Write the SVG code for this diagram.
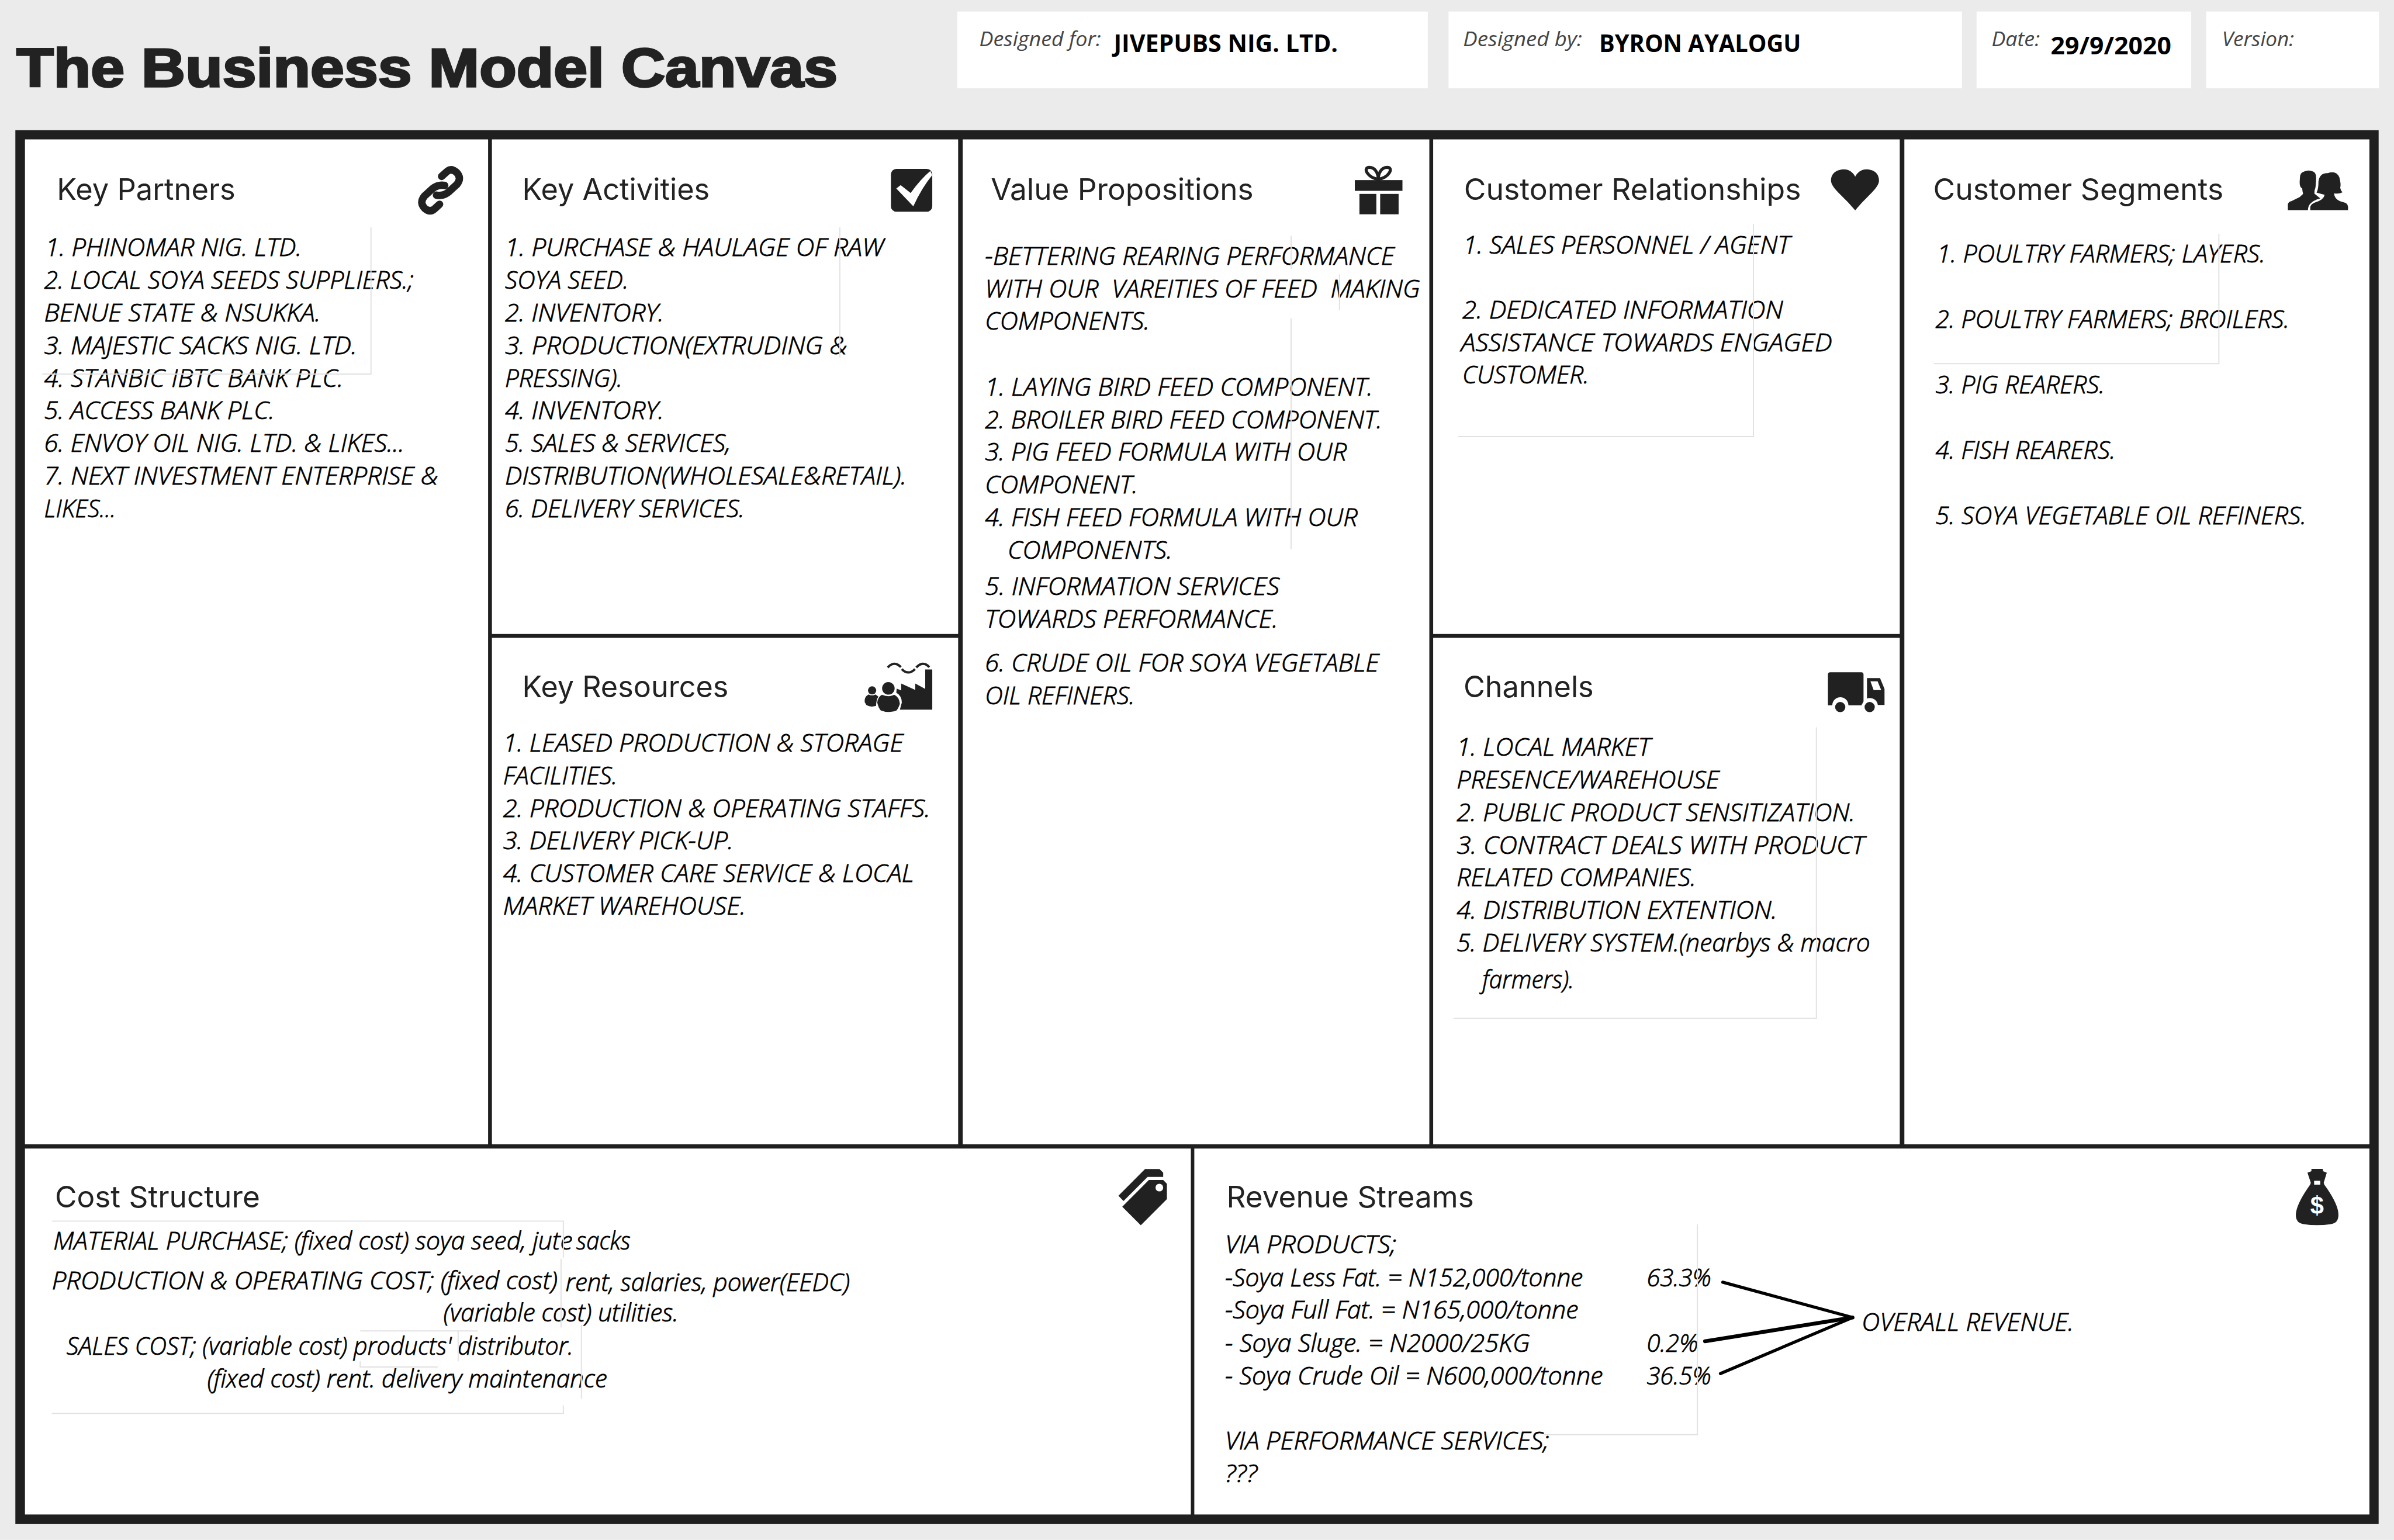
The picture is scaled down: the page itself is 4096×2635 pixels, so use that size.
<svg xmlns="http://www.w3.org/2000/svg" width="4096" height="2635" viewBox="0 0 4096 2635">
<style>
.b{font-family:"Open Sans","Liberation Sans",sans-serif;font-style:italic;font-weight:300;font-size:65px;fill:#000;stroke:#000;stroke-width:1.3}
.c{font-family:"Open Sans","Liberation Sans",sans-serif;font-style:italic;font-weight:300;font-size:64px;fill:#000;stroke:#000;stroke-width:1.3}
.h{font-family:"Inter","Liberation Sans",sans-serif;font-size:78px;fill:#222}
.l{font-family:"Open Sans","Liberation Sans",sans-serif;font-style:italic;font-size:54px;fill:#444}
.v{font-family:"Open Sans","Liberation Sans",sans-serif;font-weight:700;font-size:62px;fill:#000}
.w{fill:#fff}
.i{fill:#212121}
.f{stroke:#e2e2e2;stroke-width:3;fill:none}
.k{stroke:#000;stroke-width:8;stroke-linecap:round;fill:none}
</style>
<g transform="scale(0.65704)">
<rect width="6234" height="4010" fill="#ebebeb"/>
<g id="header">
<text x="43" y="226" font-family="Liberation Sans,sans-serif" font-weight="700" font-size="140" fill="#222" stroke="#222" stroke-width="5" textLength="2138" lengthAdjust="spacingAndGlyphs">The Business Model Canvas</text>
<rect class="w" x="2493" y="30" width="1225" height="200"/>
<rect class="w" x="3772" y="30" width="1337" height="200"/>
<rect class="w" x="5147" y="30" width="559" height="200"/>
<rect class="w" x="5745" y="30" width="450" height="200"/>
<text class="l" x="2550" y="120" textLength="317" lengthAdjust="spacingAndGlyphs">Designed for:</text>
<text class="v" x="2900" y="135" textLength="584" lengthAdjust="spacingAndGlyphs">JIVEPUBS NIG. LTD.</text>
<text class="l" x="3810" y="120" textLength="310" lengthAdjust="spacingAndGlyphs">Designed by:</text>
<text class="v" x="4164" y="135" textLength="526" lengthAdjust="spacingAndGlyphs">BYRON AYALOGU</text>
<text class="l" x="5186" y="120" textLength="126" lengthAdjust="spacingAndGlyphs">Date:</text>
<text class="v" x="5340" y="141" textLength="314" lengthAdjust="spacingAndGlyphs">29/9/2020</text>
<text class="l" x="5786" y="120" textLength="188" lengthAdjust="spacingAndGlyphs">Version:</text>
</g>
<rect id="frame" x="40" y="339" width="6154" height="3630" fill="#1f1f1f"/>

<g id="key-partners">
<rect class="w" x="65" y="363" width="1206" height="2617"/>
<text class="h" x="148" y="520" textLength="465" lengthAdjust="spacingAndGlyphs">Key Partners</text>
<g transform="translate(1040,380) scale(0.3333)">
<path d="M330 238L372 200Q405 172 445 205Q490 250 450 300L385 360Q340 395 290 385" fill="none" stroke="#212121" stroke-width="58" stroke-linecap="round"/>
<path d="M314 456L272 494Q239 522 199 489Q154 444 194 394L259 334Q304 299 354 309" fill="none" stroke="#212121" stroke-width="58" stroke-linecap="round"/>
</g>
<text class="b" x="118" y="667" textLength="668" lengthAdjust="spacingAndGlyphs">1. PHINOMAR NIG. LTD.</text>
<text class="b" x="115" y="752" textLength="962" lengthAdjust="spacingAndGlyphs">2. LOCAL SOYA SEEDS SUPPLIERS.;</text>
<text class="b" x="115" y="837" textLength="720" lengthAdjust="spacingAndGlyphs">BENUE STATE &amp; NSUKKA.</text>
<text class="b" x="115" y="922" textLength="815" lengthAdjust="spacingAndGlyphs">3. MAJESTIC SACKS NIG. LTD.</text>
<text class="b" x="115" y="1007" textLength="779" lengthAdjust="spacingAndGlyphs">4. STANBIC IBTC BANK PLC.</text>
<text class="b" x="115" y="1092" textLength="600" lengthAdjust="spacingAndGlyphs">5. ACCESS BANK PLC.</text>
<text class="b" x="115" y="1177" textLength="938" lengthAdjust="spacingAndGlyphs">6. ENVOY OIL NIG. LTD. &amp; LIKES...</text>
<text class="b" x="115" y="1262" textLength="1026" lengthAdjust="spacingAndGlyphs">7. NEXT INVESTMENT ENTERPRISE &amp;</text>
<text class="b" x="115" y="1347" textLength="187" lengthAdjust="spacingAndGlyphs">LIKES...</text>
<path class="f" d="M966 592V974H110"/>
</g>

<g id="key-activities">
<rect class="w" x="1281" y="363" width="1214" height="1288"/>
<text class="h" x="1360" y="520" textLength="488" lengthAdjust="spacingAndGlyphs">Key Activities</text>
<g transform="translate(2200,380) scale(0.3333)">
<rect class="i" x="360" y="180" width="323" height="334" rx="42"/>
<path class="w" d="M402 332L436 306L514 368Q590 262 668 196L683 228Q600 330 535 472Z"/>
</g>
<text class="b" x="1315" y="667" textLength="986" lengthAdjust="spacingAndGlyphs">1. PURCHASE &amp; HAULAGE OF RAW</text>
<text class="b" x="1315" y="752" textLength="322" lengthAdjust="spacingAndGlyphs">SOYA SEED.</text>
<text class="b" x="1315" y="837" textLength="414" lengthAdjust="spacingAndGlyphs">2. INVENTORY.</text>
<text class="b" x="1315" y="922" textLength="891" lengthAdjust="spacingAndGlyphs">3. PRODUCTION(EXTRUDING &amp;</text>
<text class="b" x="1315" y="1007" textLength="306" lengthAdjust="spacingAndGlyphs">PRESSING).</text>
<text class="b" x="1315" y="1092" textLength="414" lengthAdjust="spacingAndGlyphs">4. INVENTORY.</text>
<text class="b" x="1315" y="1177" textLength="588" lengthAdjust="spacingAndGlyphs">5. SALES &amp; SERVICES,</text>
<text class="b" x="1315" y="1262" textLength="1046" lengthAdjust="spacingAndGlyphs">DISTRIBUTION(WHOLESALE&amp;RETAIL).</text>
<text class="b" x="1315" y="1347" textLength="624" lengthAdjust="spacingAndGlyphs">6. DELIVERY SERVICES.</text>
<path class="f" d="M2187 592V931"/>
</g>

<g id="key-resources">
<rect class="w" x="1281" y="1661" width="1214" height="1319"/>
<text class="h" x="1360" y="1816" textLength="537" lengthAdjust="spacingAndGlyphs">Key Resources</text>
<g transform="translate(2200,1680) scale(0.3333)" class="i">
<path d="M628 190H683V504H430L445 450Q445 395 402 372L405 340L440 354V300L550 350V300L628 342Z"/>
<circle cx="340" cy="338" r="49"/>
<path d="M290 388Q340 410 385 388Q425 405 430 460Q420 490 405 510Q340 535 280 510Q262 490 253 450Q258 405 290 388Z"/>
<circle cx="213" cy="354" r="32"/>
<path d="M185 385Q213 400 240 385L262 403Q245 425 244 475Q200 488 168 468L155 445Q150 405 185 385Z"/>
<path d="M335 175Q385 118 438 172" fill="none" stroke="#212121" stroke-width="18"/>
<path d="M445 187Q495 240 548 187" fill="none" stroke="#212121" stroke-width="18"/>
<path d="M558 175Q610 118 660 172" fill="none" stroke="#212121" stroke-width="18"/>
</g>
<text class="b" x="1310" y="1957" textLength="1042" lengthAdjust="spacingAndGlyphs">1. LEASED PRODUCTION &amp; STORAGE</text>
<text class="b" x="1310" y="2042" textLength="298" lengthAdjust="spacingAndGlyphs">FACILITIES.</text>
<text class="b" x="1310" y="2127" textLength="1113" lengthAdjust="spacingAndGlyphs">2. PRODUCTION &amp; OPERATING STAFFS.</text>
<text class="b" x="1310" y="2212" textLength="600" lengthAdjust="spacingAndGlyphs">3. DELIVERY PICK-UP.</text>
<text class="b" x="1310" y="2297" textLength="1070" lengthAdjust="spacingAndGlyphs">4. CUSTOMER CARE SERVICE &amp; LOCAL</text>
<text class="b" x="1310" y="2382" textLength="632" lengthAdjust="spacingAndGlyphs">MARKET WAREHOUSE.</text>
</g>

<g id="value-propositions">
<rect class="w" x="2507" y="363" width="1215" height="2617"/>
<text class="h" x="2580" y="520" textLength="684" lengthAdjust="spacingAndGlyphs">Value Propositions</text>
<g class="i">
<rect x="3528" y="469" width="124" height="28"/>
<rect x="3540" y="505" width="44" height="53"/>
<rect x="3594" y="505" width="48" height="53"/>
<path d="M3589 467C3560 462 3548 436 3566 436C3580 436 3589 450 3589 467ZM3589 467C3618 462 3630 436 3612 436C3598 436 3589 450 3589 467Z" fill="none" stroke="#212121" stroke-width="8"/>
</g>
<text class="b" x="2565" y="690" textLength="1066" lengthAdjust="spacingAndGlyphs">-BETTERING REARING PERFORMANCE</text>
<text class="b" x="2565" y="775" xml:space="preserve" textLength="1133" lengthAdjust="spacingAndGlyphs">WITH OUR  VAREITIES OF FEED  MAKING</text>
<text class="b" x="2565" y="859" textLength="429" lengthAdjust="spacingAndGlyphs">COMPONENTS.</text>
<text class="b" x="2565" y="1030" textLength="1010" lengthAdjust="spacingAndGlyphs">1. LAYING BIRD FEED COMPONENT.</text>
<text class="b" x="2565" y="1115" textLength="1034" lengthAdjust="spacingAndGlyphs">2. BROILER BIRD FEED COMPONENT.</text>
<text class="b" x="2565" y="1200" textLength="942" lengthAdjust="spacingAndGlyphs">3. PIG FEED FORMULA WITH OUR</text>
<text class="b" x="2565" y="1285" textLength="398" lengthAdjust="spacingAndGlyphs">COMPONENT.</text>
<text class="b" x="2565" y="1370" textLength="970" lengthAdjust="spacingAndGlyphs">4. FISH FEED FORMULA WITH OUR</text>
<text class="b" x="2624" y="1455" textLength="429" lengthAdjust="spacingAndGlyphs">COMPONENTS.</text>
<text class="b" x="2565" y="1550" textLength="767" lengthAdjust="spacingAndGlyphs">5. INFORMATION SERVICES</text>
<text class="b" x="2565" y="1635" textLength="763" lengthAdjust="spacingAndGlyphs">TOWARDS PERFORMANCE.</text>
<text class="b" x="2565" y="1748" textLength="1026" lengthAdjust="spacingAndGlyphs">6. CRUDE OIL FOR SOYA VEGETABLE</text>
<text class="b" x="2565" y="1834" textLength="390" lengthAdjust="spacingAndGlyphs">OIL REFINERS.</text>
<path class="f" d="M3362 614V700M3362 829V1430M3488 714V808"/>
</g>

<g id="customer-relationships">
<rect class="w" x="3732" y="363" width="1215" height="1288"/>
<text class="h" x="3812" y="520" textLength="878" lengthAdjust="spacingAndGlyphs">Customer Relationships</text>
<path class="i" d="M4831 548C4800 510 4768 490 4768 470C4768 450 4785 441 4802 441C4816 441 4826 450 4831 460C4836 450 4846 441 4860 441C4877 441 4893 450 4893 470C4893 490 4862 510 4831 548Z"/>
<text class="b" x="3810" y="661" textLength="851" lengthAdjust="spacingAndGlyphs">1. SALES PERSONNEL / AGENT</text>
<text class="b" x="3808" y="830" textLength="835" lengthAdjust="spacingAndGlyphs">2. DEDICATED INFORMATION</text>
<text class="b" x="3805" y="915" textLength="966" lengthAdjust="spacingAndGlyphs">ASSISTANCE TOWARDS ENGAGED</text>
<text class="b" x="3808" y="999" textLength="330" lengthAdjust="spacingAndGlyphs">CUSTOMER.</text>
<path class="f" d="M4566 583V1137H3797"/>
</g>

<g id="channels">
<rect class="w" x="3732" y="1661" width="1215" height="1319"/>
<text class="h" x="3811" y="1816" textLength="339" lengthAdjust="spacingAndGlyphs">Channels</text>
<g transform="translate(4700,1720) scale(0.3333)" class="i">
<path d="M198 92H440Q458 92 458 110V320L442 350H340A62 62 0 0 0 214 350H180V110Q180 92 198 92Z"/>
<path d="M485 138H587L622 222V348H570A62 62 0 0 0 485 298Z"/>
<path class="w" d="M512 163H568L596 231H537Z"/>
<circle cx="276" cy="364" r="40"/>
<circle cx="506" cy="364" r="40"/>
</g>
<text class="b" x="3793" y="1968" textLength="505" lengthAdjust="spacingAndGlyphs">1. LOCAL MARKET</text>
<text class="b" x="3793" y="2053" textLength="684" lengthAdjust="spacingAndGlyphs">PRESENCE/WAREHOUSE</text>
<text class="b" x="3793" y="2138" textLength="1038" lengthAdjust="spacingAndGlyphs">2. PUBLIC PRODUCT SENSITIZATION.</text>
<text class="b" x="3793" y="2223" textLength="1062" lengthAdjust="spacingAndGlyphs">3. CONTRACT DEALS WITH PRODUCT</text>
<text class="b" x="3793" y="2308" textLength="624" lengthAdjust="spacingAndGlyphs">RELATED COMPANIES.</text>
<text class="b" x="3793" y="2393" textLength="835" lengthAdjust="spacingAndGlyphs">4. DISTRIBUTION EXTENTION.</text>
<text class="b" x="3793" y="2478" textLength="580" lengthAdjust="spacingAndGlyphs">5. DELIVERY SYSTEM.</text>
<text class="b" x="4373" y="2478" textLength="497" lengthAdjust="spacingAndGlyphs">(nearbys &amp; macro</text>
<text class="b" x="3860" y="2574" textLength="239" lengthAdjust="spacingAndGlyphs">farmers).</text>
<path class="f" d="M4730 1894V2652H3785"/>
</g>

<g id="customer-segments">
<rect class="w" x="4959" y="363" width="1211" height="2617"/>
<text class="h" x="5034" y="520" textLength="756" lengthAdjust="spacingAndGlyphs">Customer Segments</text>
<g transform="translate(5920,400) scale(0.3333)" class="i">
<path d="M207 190Q205 150 240 140Q275 125 310 140Q335 150 334 190Q332 240 328 268Q318 290 320 312L366 350Q310 365 285 395Q270 415 270 442H113V395Q120 375 140 372L205 340L232 315Q226 290 225 272Q205 265 205 225Z"/>
<path d="M288 442V415Q295 392 330 380Q395 360 400 322Q370 315 337 305Q352 280 352 220Q360 150 425 153Q490 130 515 185Q530 240 522 265Q525 290 540 302Q510 318 474 310Q475 350 520 372L565 385Q583 398 583 420V442Z"/>
</g>
<text class="b" x="5044" y="683" textLength="855" lengthAdjust="spacingAndGlyphs">1. POULTRY FARMERS; LAYERS.</text>
<text class="b" x="5040" y="854" textLength="922" lengthAdjust="spacingAndGlyphs">2. POULTRY FARMERS; BROILERS.</text>
<text class="b" x="5040" y="1024" textLength="441" lengthAdjust="spacingAndGlyphs">3. PIG REARERS.</text>
<text class="b" x="5040" y="1195" textLength="469" lengthAdjust="spacingAndGlyphs">4. FISH REARERS.</text>
<text class="b" x="5040" y="1365" textLength="966" lengthAdjust="spacingAndGlyphs">5. SOYA VEGETABLE OIL REFINERS.</text>
<path class="f" d="M5778 609V947H5036"/>
</g>

<g id="cost-structure">
<rect class="w" x="65" y="2991" width="3036" height="953"/>
<text class="h" x="143" y="3144" textLength="534" lengthAdjust="spacingAndGlyphs">Cost Structure</text>
<g transform="translate(2880,3020) scale(0.3333)" class="i">
<path d="M97 282L305 73H418L447 102V135H325L137 323Z"/>
<path fill-rule="evenodd" d="M127 368L335 159H447L476 188V308L272 512ZM417 188A30 30 0 1 0 417.01 248A30 30 0 1 0 417 188Z"/>
</g>
<text class="c" x="139" y="3254" textLength="1352" lengthAdjust="spacingAndGlyphs">MATERIAL PURCHASE; (fixed cost) soya seed, jute</text>
<text class="c" x="1501" y="3254" textLength="141" lengthAdjust="spacingAndGlyphs">sacks</text>
<text class="c" x="135" y="3357" textLength="1317" lengthAdjust="spacingAndGlyphs">PRODUCTION &amp; OPERATING COST; (fixed cost)</text>
<text class="c" x="1473" y="3362" textLength="740" lengthAdjust="spacingAndGlyphs">rent, salaries, power(EEDC)</text>
<text class="c" x="1155" y="3441" textLength="612" lengthAdjust="spacingAndGlyphs">(variable cost) utilities.</text>
<text class="c" x="173" y="3528" textLength="1320" lengthAdjust="spacingAndGlyphs">SALES COST; (variable cost) products' distributor.</text>
<text class="c" x="540" y="3613" textLength="1041" lengthAdjust="spacingAndGlyphs">(fixed cost) rent. delivery maintenance</text>
<path class="f" d="M135 3180H1467V3275M1461 3278V3457M135 3681H1467V3660M1514 3450V3643M938 3466H1244M1193 3466V3545M938 3545V3560H1140"/>
</g>

<g id="revenue-streams">
<rect class="w" x="3110" y="2991" width="3060" height="953"/>
<text class="h" x="3194" y="3144" textLength="644" lengthAdjust="spacingAndGlyphs">Revenue Streams</text>
<g transform="translate(5940,3030) scale(0.3333)">
<path class="i" d="M237 42H325L328 60L357 72L333 150Q335 165 345 175Q448 320 448 400Q448 465 390 473Q280 490 175 473Q115 465 115 400Q118 320 220 175Q232 160 232 150L206 72L237 60Z"/>
<rect class="w" x="258" y="135" width="48" height="30"/>
<text x="281" y="395" text-anchor="middle" font-family="Liberation Sans,sans-serif" font-weight="700" font-size="190" fill="#fff">$</text>
</g>
<text class="c" x="3190" y="3263" textLength="446" lengthAdjust="spacingAndGlyphs">VIA PRODUCTS;</text>
<text class="c" x="3190" y="3350" textLength="932" lengthAdjust="spacingAndGlyphs">-Soya Less Fat. = N152,000/tonne</text>
<text class="c" x="3190" y="3434" textLength="920" lengthAdjust="spacingAndGlyphs">-Soya Full Fat. = N165,000/tonne</text>
<text class="c" x="3190" y="3520" textLength="794" lengthAdjust="spacingAndGlyphs">- Soya Sluge. = N2000/25KG</text>
<text class="c" x="3190" y="3605" textLength="984" lengthAdjust="spacingAndGlyphs">- Soya Crude Oil = N600,000/tonne</text>
<text class="c" x="3190" y="3774" textLength="844" lengthAdjust="spacingAndGlyphs">VIA PERFORMANCE SERVICES;</text>
<text class="c" x="3190" y="3860" textLength="84" lengthAdjust="spacingAndGlyphs">???</text>
<text class="c" x="4288" y="3350" textLength="168" lengthAdjust="spacingAndGlyphs">63.3%</text>
<text class="c" x="4288" y="3520" textLength="134" lengthAdjust="spacingAndGlyphs">0.2%</text>
<text class="c" x="4288" y="3605" textLength="168" lengthAdjust="spacingAndGlyphs">36.5%</text>
<text class="c" x="4848" y="3466" textLength="552" lengthAdjust="spacingAndGlyphs">OVERALL REVENUE.</text>
<path class="f" d="M4420 3188V3736H4020"/>
</g>

<g id="connectors">
<path class="k" d="M4486 3339L4824 3431"/>
<path class="k" style="stroke-width:10" d="M4440 3493L4824 3431"/>
<path class="k" d="M4480 3577L4824 3431"/>
</g>
</g>
</svg>
